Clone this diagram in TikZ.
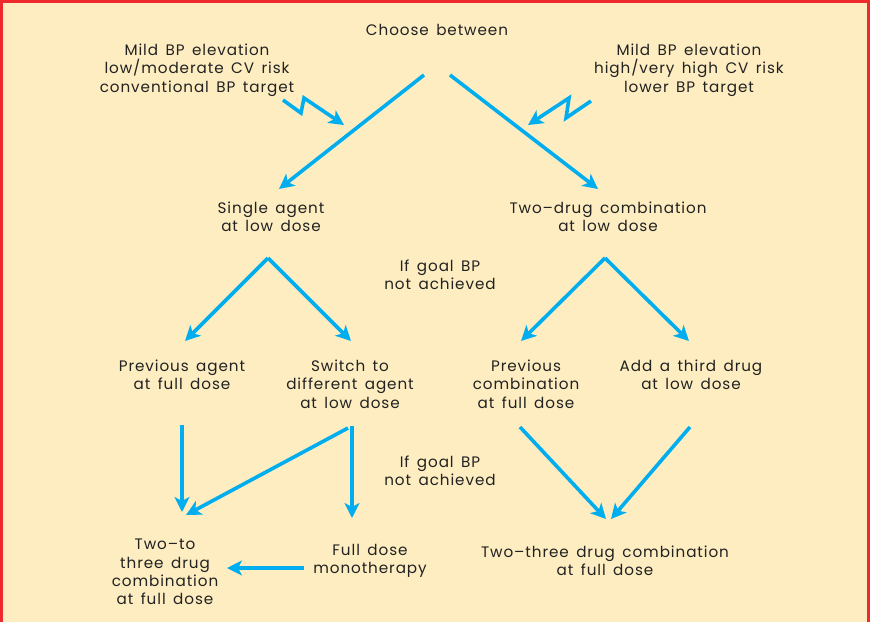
\documentclass[tikz,border=0pt]{standalone}
\usepackage{fontspec}
\setmainfont[WordSpace=1.5,LetterSpace=6]{Poppins}
\usetikzlibrary{arrows.meta}
\definecolor{bg}{HTML}{FDEDC1}
\definecolor{frame}{HTML}{EE2A2F}
\definecolor{arr}{HTML}{00AEEF}
\definecolor{txt}{HTML}{222222}
\tikzset{
  lbl/.style={align=center, text=txt, inner sep=0pt, font=\fontsize{15.2}{18.4}\selectfont},
  flow/.style={draw=arr, line width=3.6pt, -{Stealth[length=15pt,width=15pt,inset=4pt]}},
}
\begin{document}
\begin{tikzpicture}[x=1pt,y=-1pt]
\useasboundingbox (0,0) rectangle (870,622);
\fill[bg] (0,0) rectangle (870,622);
\fill[frame] (0,0) rectangle (870,3);
\fill[frame] (0,0) rectangle (3,622);
\fill[frame] (867,0) rectangle (870,622);

\node[lbl] (choose) at (437,30) {Choose between};
\node[lbl] (mildL) at (197,70) {Mild BP elevation\\low/moderate CV risk\\conventional BP target};
\node[lbl] (mildR) at (689,70) {Mild BP elevation\\high/very high CV risk\\lower BP target};
\node[lbl] (single) at (271,217) {Single agent\\at low dose};
\node[lbl] (twodrug) at (608,217) {Two–drug combination\\at low dose};
\node[lbl] (goal1) at (440,275) {If goal BP\\not achieved};
\node[lbl] (prevagent) at (182,375) {Previous agent\\at full dose};
\node[lbl] (switch) at (350,384) {Switch to\\different agent\\at low dose};
\node[lbl] (prevcomb) at (526,384) {Previous\\combination\\at full dose};
\node[lbl] (third) at (691,375) {Add a third drug\\at low dose};
\node[lbl] (goal2) at (440,471) {If goal BP\\not achieved};
\node[lbl] (twoto) at (165,572) {Two–to\\three drug\\combination\\at full dose};
\node[lbl] (mono) at (370,561) {Full dose\\monotherapy};
\node[lbl] (twothree) at (605,561) {Two–three drug combination\\at full dose};

\coordinate (cL) at (424,75);
\coordinate (cR) at (450,75);
\coordinate (sT) at (268,258);
\coordinate (tT) at (605,258);
\coordinate (paB) at (182,425);
\coordinate (swB) at (348,428);
\coordinate (swB2) at (352,426);
\coordinate (pcB) at (520,427);
\coordinate (thB) at (690,427);
\coordinate (monoL) at (304,568);
\coordinate (zl0) at (283,100);
\coordinate (zl1) at (301,113);
\coordinate (zl2) at (304,98);
\coordinate (zl3) at (344,125);
\coordinate (zr0) at (591,101);
\coordinate (zr1) at (566,118);
\coordinate (zr2) at (569,98);
\coordinate (zr3) at (528,125);

\draw[flow] (cL) -- (279,189);
\draw[flow] (cR) -- (598,189);
\draw[flow] (sT) -- (185,341);
\draw[flow] (sT) -- (351,341);
\draw[flow] (tT) -- (521,341);
\draw[flow] (tT) -- (689,341);
\draw[flow] (paB) -- (182,512);
\draw[flow] (swB) -- (186,515);
\draw[flow] (swB2) -- (352,518);
\draw[flow] (pcB) -- (606,519);
\draw[flow] (thB) -- (611,519);
\draw[flow] (monoL) -- (227,568);
\draw[flow, line join=miter] (zl0) -- (zl1) -- (zl2) -- (zl3);
\draw[flow, line join=miter] (zr0) -- (zr1) -- (zr2) -- (zr3);
\end{tikzpicture}
\end{document}
